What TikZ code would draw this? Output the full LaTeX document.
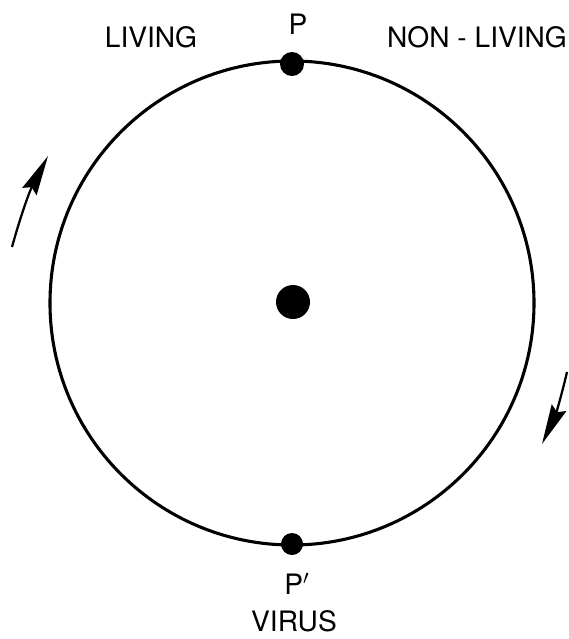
\documentclass[tikz,border=0pt]{standalone}
\usepackage{fontspec}
\setmainfont{TeX Gyre Heros}
\usetikzlibrary{arrows.meta}

\begin{document}
\begin{tikzpicture}[
    x=0.025cm, y=-0.025cm,
    label/.style={font=\fontsize{20}{24}\selectfont, inner sep=0pt},
    dot/.style={circle, fill=black, inner sep=0pt, minimum size=#1},
    spin/.style={line width=1.6pt, -{Stealth[length=1cm, width=0.4cm, inset=0.12cm]}}
]
\useasboundingbox (0,0) rectangle (568,639);
% circle and points
\node[circle, draw, line width=2.2pt, minimum size=484*0.025cm, inner sep=0pt] (ring) at (292,303) {};
\node[dot=0.6cm] (P) at (292,64) {};
\node[dot=0.55cm] (Q) at (292,544) {};
\node[dot=0.85cm] (core) at (293,302) {};
% labels
\node[label] (living) at (151,37) {LIVING};
\node[label] (nonliving) at (477,37) {NON - LIVING};
\node[label] (p) at (298,24) {P};
\node[label] (q) at (297,584) {P$'$};
\node[label] (virus) at (294,621) {VIRUS};
% direction arrows
\coordinate (l0) at (12,247);
\coordinate (l1) at (48,156);
\coordinate (r0) at (567,372);
\coordinate (r1) at (542,444);
\draw[spin] (l0) to[bend left=6] (l1);
\draw[spin] (r0) to[bend left=6] (r1);
\end{tikzpicture}
\end{document}
